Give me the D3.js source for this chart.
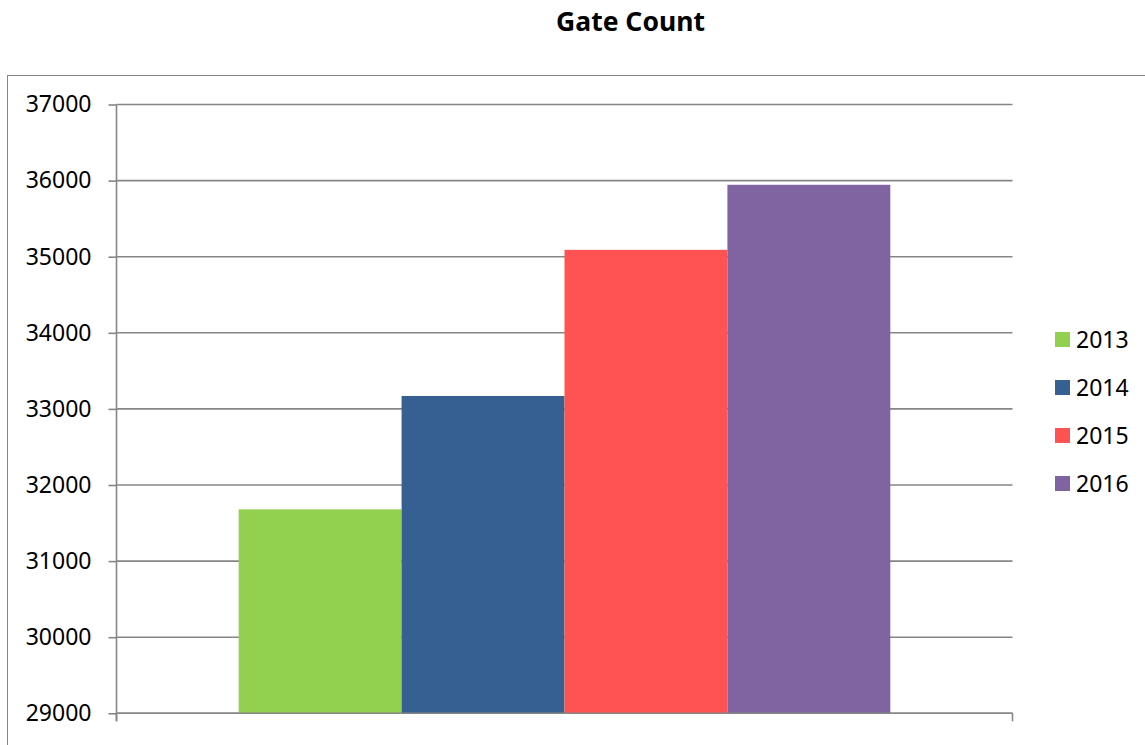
<!DOCTYPE html>
<html>
<head>
<meta charset="utf-8">
<script src="https://cdn.jsdelivr.net/npm/d3@7"></script>
<style>
  html, body { margin: 0; padding: 0; background: #fff; }
  svg { display: block; }
  text { font-family: "Noto Sans", "Open Sans", sans-serif; fill: #000; }
</style>
</head>
<body>
<svg id="chart" width="1145" height="745"></svg>
<script>
const title = "Gate Count";
const years = ["2013", "2014", "2015", "2016"];
const values = [31680, 33170, 35090, 35945];
const colors = ["#92D050", "#376092", "#FF5353", "#8064A2"];
const yTicks = [29000, 30000, 31000, 32000, 33000, 34000, 35000, 36000, 37000];

const svg = d3.select("#chart");
const W = 1145, H = 745;
const plot = { left: 116.5, right: 1012.5, top: 104.5, bottom: 713.3 };
const gridColor = "#868686";

svg.append("rect").attr("width", W).attr("height", H).attr("fill", "#fff");

// outer chart border (extends beyond the visible area on right/bottom)
svg.append("rect")
  .attr("x", 7.5).attr("y", 75.5)
  .attr("width", W + 50).attr("height", H + 50)
  .attr("fill", "none").attr("stroke", "#868686").attr("stroke-width", 1);

// title
svg.append("text")
  .attr("x", 630.5).attr("y", 31)
  .attr("text-anchor", "middle")
  .style("font-weight", "bold").style("font-size", "26.5px")
  .text(title);

const y = d3.scaleLinear().domain([29000, 37000]).range([plot.bottom, plot.top]);
const x = d3.scaleBand().domain(years).range([plot.left, plot.right])
  .paddingInner(0).paddingOuter(0.75);

// gridlines
svg.append("g").selectAll("line").data(yTicks).join("line")
  .attr("x1", plot.left).attr("x2", plot.right)
  .attr("y1", d => y(d)).attr("y2", d => y(d))
  .attr("stroke", gridColor).attr("stroke-width", 1.6);

// bars
svg.append("g").selectAll("rect").data(years).join("rect")
  .attr("x", d => x(d))
  .attr("width", x.bandwidth())
  .attr("y", (d, i) => y(values[i]))
  .attr("height", (d, i) => y(29000) - y(values[i]))
  .attr("fill", (d, i) => colors[i]);

// y axis
const yAxis = d3.axisLeft(y).tickValues(yTicks).tickFormat(d3.format("d"))
  .tickSize(8).tickPadding(17);
const gy = svg.append("g").attr("transform", `translate(${plot.left},0)`).call(yAxis);
gy.select(".domain").remove();
gy.selectAll(".tick line").attr("stroke", gridColor).attr("stroke-width", 1.6);
gy.selectAll(".tick text").style("font-size", "23px").style("font-family", "\"Noto Sans\", sans-serif");
gy.append("line").attr("x1", 0).attr("x2", 0)
  .attr("y1", plot.top).attr("y2", plot.bottom + 8)
  .attr("stroke", gridColor).attr("stroke-width", 1.6);

// x axis line with category boundary ticks
const xg = svg.append("g");
xg.append("line").attr("x1", plot.left).attr("x2", plot.right)
  .attr("y1", plot.bottom).attr("y2", plot.bottom)
  .attr("stroke", gridColor).attr("stroke-width", 1.6);
xg.selectAll("line.tk").data([plot.left, plot.right]).join("line").attr("class", "tk")
  .attr("x1", d => d).attr("x2", d => d)
  .attr("y1", plot.bottom).attr("y2", plot.bottom + 8)
  .attr("stroke", gridColor).attr("stroke-width", 1.6);

// legend
const lg = svg.append("g").attr("transform", "translate(1055,332)");
const items = lg.selectAll("g").data(years).join("g")
  .attr("transform", (d, i) => `translate(0,${i * 48})`);
items.append("rect").attr("width", 15).attr("height", 15)
  .attr("fill", (d, i) => colors[i]);
items.append("text").attr("x", 21).attr("y", 7.5).attr("dy", "0.36em")
  .style("font-size", "23px").text(d => d);
</script>
</body>
</html>
